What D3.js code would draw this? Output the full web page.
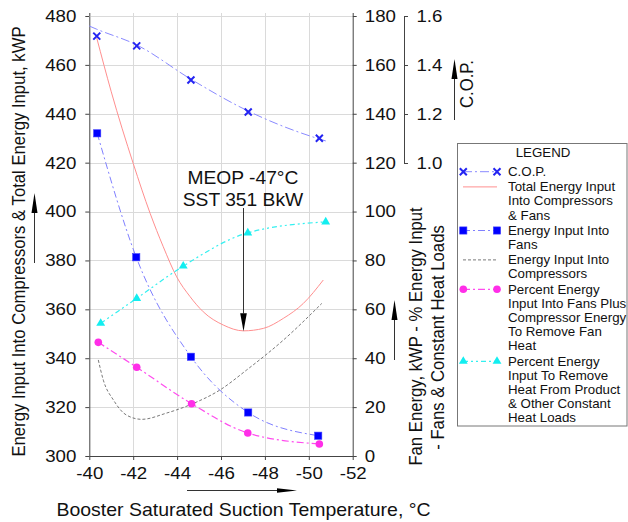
<!DOCTYPE html>
<html><head><meta charset="utf-8">
<script src="https://cdn.jsdelivr.net/npm/d3@7"></script>
<style>body{margin:0;background:#fff}svg{display:block}</style>
</head><body>
<script>
// ---------- DATA ----------
const xTicks = [-40, -42, -44, -46, -48, -50, -52];
const leftTicks = [300, 320, 340, 360, 380, 400, 420, 440, 460, 480];
const rightTicks = [0, 20, 40, 60, 80, 100, 120, 140, 160, 180];
const copTicks = [1.0, 1.2, 1.4, 1.6];

// C.O.P. (markers) and its trend line
const copX = [-40.34, -42.16, -44.63, -47.24, -50.48];
const copVal = [1.518, 1.478, 1.339, 1.208, 1.101];
const copTrendX = [-40.0, -40.34, -42.16, -44.63, -47.24, -50.48, -50.89];
const copTrendVal = [1.559, 1.546, 1.482, 1.342, 1.212, 1.098, 1.087];

// Total energy input into compressors & fans (kWP, left axis)
const totalX = [-40.34, -41.0, -42.0, -42.77, -43.37, -43.98, -44.59, -45.19, -46.1, -47.02, -47.93, -48.84, -49.75, -50.66];
const totalVal = [471, 449, 419.7, 399.3, 385.6, 373.3, 365.2, 359.0, 353.6, 351.2, 352.2, 356.3, 362.4, 372];

// Energy input into compressors (kWP, left axis)
const compX = [-40.41, -40.64, -41.1, -41.7, -42.39, -43.5, -44.66, -45.95, -47.17, -48.84, -50.59];
const compVal = [339.3, 331, 322.9, 316.7, 315, 317.5, 321.2, 327, 335.2, 347.4, 362.4];

// Energy input into fans (kWP, right axis)
const fanX = [-40.36, -42.14, -44.63, -47.24, -50.43];
const fanVal = [132, 81.3, 40.6, 17.8, 8.3];

// Percent energy input into fans + compressor energy to remove fan heat (right axis)
const fanPctX = [-40.41, -42.16, -44.66, -47.22, -50.48];
const fanPct = [46.5, 36.3, 21.4, 9.4, 4.9];

// Percent energy input to remove heat from product & other constant heat loads (right axis)
const constPctX = [-40.52, -42.16, -44.28, -47.22, -50.77];
const constPct = [54.3, 64.5, 77.7, 91.3, 95.8];

// Annotation
const meopTemp = -47;
const sstValue = 351;
const annotLines = ["MEOP -47°C", "SST 351 BkW"];

// Legend
const legendTitle = "LEGEND";
const legendKeys = ["cop", "total", "fan", "comp", "fanPct", "constPct"];
const legendLabels = [
  ["C.O.P."],
  ["Total Energy Input", "Into Compressors", "& Fans"],
  ["Energy Input Into", "Fans"],
  ["Energy Input Into", "Compressors"],
  ["Percent Energy", "Input Into Fans Plus", "Compressor Energy", "To Remove Fan", "Heat"],
  ["Percent Energy", "Input To Remove", "Heat From Product", "& Other Constant", "Heat Loads"]
];

const leftTitle = "Energy Input Into Compressors & Total Energy Input, kWP";
const rightTitle1 = "Fan Energy, kWP  - % Energy Input";
const rightTitle2 = "- Fans & Constant Heat Loads";
const copTitle = "C.O.P.";
const xTitle = "Booster Saturated Suction Temperature, °C";

// ---------- DRAWING ----------
const W = 628, H = 522, SX = 1.1;
const FONT = "'Liberation Sans', Arial, Helvetica, sans-serif";
const svg = d3.select("body").append("svg").attr("width", W).attr("height", H)
  .style("font-family", FONT);

const x = d3.scaleLinear().domain([-40, -52]).range([89.3, 352.7]);
const yL = d3.scaleLinear().domain([300, 480]).range([456, 16]);
const yR = d3.scaleLinear().domain([0, 180]).range([456, 16]);
const yC = d3.scaleLinear().domain([1.0, 1.6]).range([163, 16]);

const styles = {
  cop:      {color: "#2424f2", line: "#8a8aff", dash: "9,3,2,3", width: 1},
  total:    {color: "#ff8f8f", line: "#ff8f8f", dash: null, width: 1},
  fan:      {color: "#0000ff", line: "#8080ff", dash: "7,3,2,3", width: 1},
  comp:     {color: "#666", line: "#6a6a6a", dash: "3,2", width: 0.9},
  fanPct:   {color: "#ff2ee8", line: "#ff4cee", dash: "7,3,2,3", width: 1.2},
  constPct: {color: "#12eef0", line: "#33f0f0", dash: "5,3,2,3,2,3", width: 1.2}
};

// Grid
const grid = svg.append("g").attr("stroke", "#dadada").attr("stroke-width", 1);
grid.selectAll("line.h").data(leftTicks.slice(1)).join("line")
  .attr("x1", x(-40)).attr("x2", x(-52))
  .attr("y1", d => Math.round(yL(d)) + 0.5).attr("y2", d => Math.round(yL(d)) + 0.5);
grid.selectAll("line.v").data(xTicks.slice(1, -1)).join("line")
  .attr("x1", d => Math.round(x(d)) + 0.5).attr("x2", d => Math.round(x(d)) + 0.5)
  .attr("y1", yL(480) - 3).attr("y2", yL(300));

// Axes
function styleAxis(g, size) {
  g.select(".domain").attr("stroke", "#444");
  g.selectAll(".tick line").attr("stroke", "#444");
  g.selectAll("text").attr("fill", "#111").style("font-size", size + "px")
    .style("font-family", FONT).attr("transform", `scale(${SX},1)`);
}
const fmtInt = d => String(d);
svg.append("g").attr("transform", `translate(${x(-40)},0)`)
  .call(d3.axisLeft(yL).tickValues(leftTicks).tickFormat(fmtInt).tickSize(4).tickSizeOuter(0).tickPadding(7.8))
  .call(g => styleAxis(g, 17));
svg.append("g").attr("transform", `translate(0,${yL(300)})`)
  .call(d3.axisBottom(x).tickValues(xTicks).tickFormat(fmtInt).tickSize(4).tickSizeOuter(0).tickPadding(6.5))
  .call(g => styleAxis(g, 17));
svg.append("g").attr("transform", `translate(${x(-52)},0)`)
  .call(d3.axisRight(yR).tickValues(rightTicks).tickFormat(fmtInt).tickSize(4).tickSizeOuter(0).tickPadding(7))
  .call(g => styleAxis(g, 17));
svg.append("g").attr("transform", `translate(404,0)`)
  .call(d3.axisRight(yC).tickValues(copTicks).tickFormat(d3.format(".1f")).tickSize(4).tickSizeOuter(0).tickPadding(7.3))
  .call(g => styleAxis(g, 17));
// small extension of axis lines above top
svg.append("line").attr("x1", x(-40) + 0.5).attr("x2", x(-40) + 0.5).attr("y1", 13).attr("y2", 16).attr("stroke", "#444");
svg.append("line").attr("x1", x(-52) + 0.5).attr("x2", x(-52) + 0.5).attr("y1", 13).attr("y2", 16).attr("stroke", "#444");

// Series lines
function zip(a, b) { return a.map((v, i) => [v, b[i]]); }
function drawLine(data, yS, key) {
  const s = styles[key];
  const gen = d3.line().x(d => x(d[0])).y(d => yS(d[1])).curve(d3.curveMonotoneX);
  const p = svg.append("path").datum(data).attr("d", gen).attr("fill", "none")
    .attr("stroke", s.line).attr("stroke-width", s.width);
  if (s.dash) p.attr("stroke-dasharray", s.dash);
}
drawLine(zip(totalX, totalVal), yL, "total");
drawLine(zip(compX, compVal), yL, "comp");
drawLine(zip(copTrendX, copTrendVal), yC, "cop");
drawLine(zip(fanX, fanVal), yR, "fan");
drawLine(zip(fanPctX, fanPct), yR, "fanPct");
drawLine(zip(constPctX, constPct), yR, "constPct");

// Markers
function marker(g, key, cx, cy) {
  const s = styles[key];
  if (key === "cop") {
    g.append("path").attr("d", `M${cx-3.5},${cy-3.5}L${cx+3.5},${cy+3.5}M${cx-3.5},${cy+3.5}L${cx+3.5},${cy-3.5}`)
      .attr("stroke", s.color).attr("stroke-width", 2).attr("fill", "none");
  } else if (key === "fan") {
    g.append("rect").attr("x", cx - 3.6).attr("y", cy - 3.6).attr("width", 7.2).attr("height", 7.2)
      .attr("fill", s.color).attr("stroke", "#3a3aff").attr("stroke-width", 0.6);
  } else if (key === "fanPct") {
    g.append("circle").attr("cx", cx).attr("cy", cy).attr("r", 3.8).attr("fill", s.color);
  } else if (key === "constPct") {
    g.append("path").attr("d", d3.symbol(d3.symbolTriangle, 34)()).attr("transform", `translate(${cx},${cy})`)
      .attr("fill", s.color);
  }
}
const mk = svg.append("g");
copX.forEach((v, i) => marker(mk, "cop", x(v), yC(copVal[i])));
fanX.forEach((v, i) => marker(mk, "fan", x(v), yR(fanVal[i])));
fanPctX.forEach((v, i) => marker(mk, "fanPct", x(v), yR(fanPct[i])));
constPctX.forEach((v, i) => marker(mk, "constPct", x(v), yR(constPct[i])));

// Text helpers (horizontally stretched like the reference)
function htext(px, py, str, size, anchor) {
  return svg.append("text").attr("transform", `translate(${px},${py}) scale(${SX},1)`)
    .attr("text-anchor", anchor || "start").style("font-size", size + "px")
    .attr("fill", "#111").text(str);
}
function vtext(px, py, str, size) {
  return svg.append("text").attr("transform", `translate(${px},${py}) rotate(-90) scale(1,${SX})`)
    .attr("text-anchor", "middle").style("font-size", size + "px").attr("fill", "#111").text(str);
}
function arrow(x1, y1, x2, y2, headLen, halfW) {
  const dx = x2 - x1, dy = y2 - y1, L = Math.hypot(dx, dy), ux = dx / L, uy = dy / L;
  const bx = x2 - ux * headLen, by = y2 - uy * headLen;
  svg.append("line").attr("x1", x1).attr("y1", y1).attr("x2", bx).attr("y2", by)
    .attr("stroke", "#333").attr("stroke-width", 1);
  svg.append("path").attr("d", `M${x2},${y2}L${bx - uy * halfW},${by + ux * halfW}L${bx + uy * halfW},${by - ux * halfW}Z`)
    .attr("fill", "#000");
}

// Annotation
const ax = x(meopTemp);
htext(ax, 183.5, annotLines[0], 17.5, "middle");
htext(ax, 205.5, annotLines[1], 17.5, "middle");
arrow(Math.round(ax) + 0.5, 208, Math.round(ax) + 0.5, yL(sstValue), 18, 3.3);

// Titles
htext(243.5, 515.5, xTitle, 17.7, "middle");
arrow(187, 490.5, 297, 490.5, 20, 2.3);
vtext(25, 241.5, leftTitle, 16.7);
arrow(34.5, 263, 34.5, 193, 20, 3);
vtext(422, 336.5, rightTitle1, 16.7);
vtext(444, 337.5, rightTitle2, 16.7);
arrow(394.5, 360, 394.5, 300, 20, 3);
vtext(473, 84, copTitle, 16.7);
arrow(454.5, 120, 454.5, 59, 20, 3);

// Legend
const lg = svg.append("g");
lg.append("rect").attr("x", 457.5).attr("y", 143.5).attr("width", 169.5).attr("height", 282.5)
  .attr("fill", "#fff").attr("stroke", "#777").attr("stroke-width", 1);
htext(543, 157, legendTitle, 12.1, "middle");
let ly = 171.7;
const LH = 14.2, GAP = 1.0;
legendKeys.forEach((key, k) => {
  const s = styles[key];
  const seg = lg.append("line").attr("x1", 463).attr("x2", 497).attr("y1", ly).attr("y2", ly)
    .attr("stroke", s.line).attr("stroke-width", s.width);
  if (s.dash) seg.attr("stroke-dasharray", s.dash);
  marker(lg, key, 463.3, ly);
  marker(lg, key, 497, ly);
  legendLabels[k].forEach((t, j) => {
    htext(508, ly + j * LH + 4.3, t, 12.1, "start");
  });
  ly += legendLabels[k].length * LH + GAP;
});
</script>
</body></html>
